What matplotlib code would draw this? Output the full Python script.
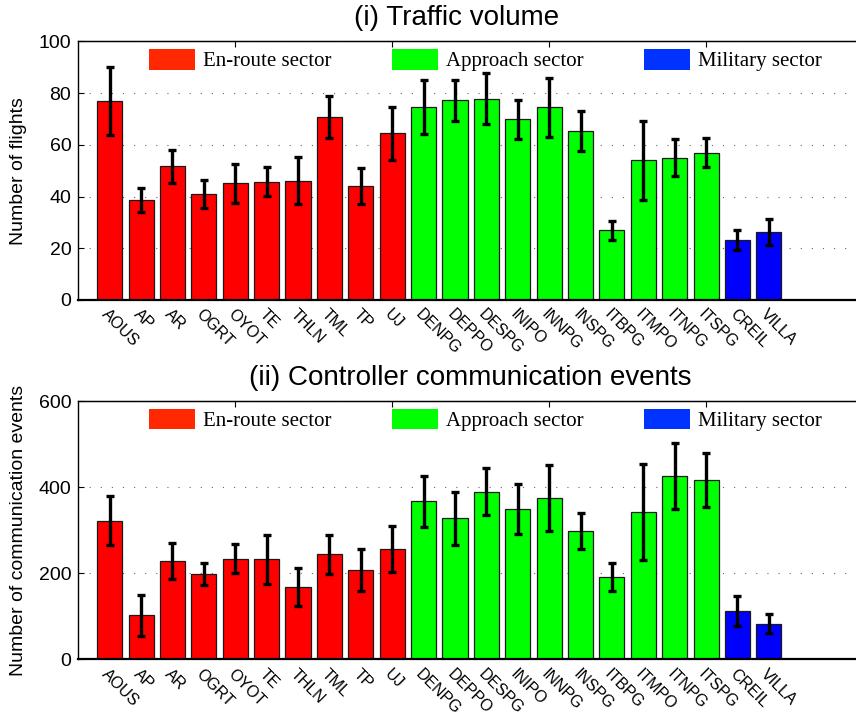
import matplotlib
matplotlib.use("Agg")
import matplotlib.pyplot as plt
from matplotlib.patches import Patch
import numpy as np

sectors = ['AOUS', 'AP', 'AR', 'OGRT', 'OYOT', 'TE', 'THLN', 'TML', 'TP', 'UJ',
           'DENPG', 'DEPPO', 'DESPG', 'INIPO', 'INNPG', 'INSPG', 'ITBPG', 'ITMPO',
           'ITNPG', 'ITSPG', 'CREIL', 'VILLA']
sector_type = ['en-route'] * 10 + ['approach'] * 10 + ['military'] * 2

flights_mean = [77.0, 38.6, 51.7, 41.1, 45.1, 45.8, 46.2, 70.8, 44.2, 64.5,
                74.7, 77.2, 77.9, 69.9, 74.5, 65.5, 26.9, 54.0, 55.0, 57.0,
                23.2, 26.3]
flights_err = [13.3, 4.6, 6.5, 5.5, 7.6, 5.5, 9.2, 8.0, 7.0, 10.3,
               10.5, 8.0, 10.0, 7.5, 11.5, 7.7, 3.7, 15.4, 7.2, 5.7,
               4.0, 5.0]

comm_mean = [322, 102, 228, 198, 234, 233, 169, 244, 208, 257,
             367, 328, 390, 349, 376, 298, 191, 343, 427, 417,
             112, 83]
comm_err = [57, 48, 42, 26, 33, 57, 44, 46, 48, 53,
            60, 62, 55, 58, 77, 42, 33, 111, 77, 62,
            35, 22]

bar_col = {'en-route': '#ff0000', 'approach': '#00ff00', 'military': '#0000ff'}
leg_col = {'en-route': '#ff2800', 'approach': '#00ff00', 'military': '#0033ff'}
leg_names = {'en-route': 'En-route sector', 'approach': 'Approach sector',
             'military': 'Military sector'}

plt.rcParams['font.family'] = ['Liberation Sans', 'DejaVu Sans']

W, H = 856, 717
fig = plt.figure(figsize=(W / 100, H / 100), dpi=100)

x = np.arange(1, len(sectors) + 1)
colors = [bar_col[t] for t in sector_type]


def panel(rect, means, errs, ymax, ystep, ylabel, title, title_x):
    ax = fig.add_axes(rect)
    ax.set_axisbelow(True)
    ax.yaxis.grid(True, linestyle=(0, (1, 9)), linewidth=0.8, color='#666666')
    ax.bar(x, means, width=0.8, color=colors, edgecolor='#1a1a1a', linewidth=0.9)
    ax.errorbar(x, means, yerr=errs, fmt='none', ecolor='black', elinewidth=2.4,
                capsize=2.8, capthick=2.4)
    ax.set_xlim(0, 25)
    ax.set_ylim(0, ymax)
    ax.set_yticks(np.arange(0, ymax + 1, ystep))
    ax.set_xticks(x)
    ax.set_xticklabels(sectors, rotation=-45, ha='left', va='top',
                       rotation_mode='anchor', fontsize=11.5)
    ax.tick_params(axis='x', bottom=False, pad=1.5)
    ax.tick_params(axis='y', direction='in', length=4, right=True, labelsize=14, pad=5)
    top = ax.secondary_xaxis('top')
    top.set_xticks([5, 10, 15, 20])
    top.tick_params(direction='in', length=4, labeltop=False)
    for sp in ax.spines.values():
        sp.set_linewidth(1.0)
    ax.spines['bottom'].set_linewidth(1.6)
    ax.set_ylabel(ylabel, fontsize=14)
    ax.yaxis.set_label_coords(-0.0654, 0.5)
    ax.set_title(title, fontsize=20, pad=12, x=title_x)
    handles = [Patch(facecolor=leg_col[k], edgecolor='none', label=leg_names[k])
               for k in ['en-route', 'approach', 'military']]
    ax.legend(handles=handles, ncol=3, loc='center', bbox_to_anchor=(0.519, 0.928),
              frameon=False, prop={'family': 'Liberation Serif', 'size': 15},
              handlelength=2.2, handleheight=1.15, handletextpad=0.4,
              columnspacing=2.9)
    return ax


left = 78.3 / W
width = (863 - 78.3) / W
panel([left, 1 - 300 / H, width, 258.5 / H], flights_mean, flights_err, 100, 20,
      'Number of flights', '(i) Traffic volume', 0.4826)
panel([left, 1 - 659.3 / H, width, 258 / H], comm_mean, comm_err, 600, 200,
      'Number of communication events', '(ii) Controller communication events', 0.5)

fig.savefig('out.png', dpi=100)
